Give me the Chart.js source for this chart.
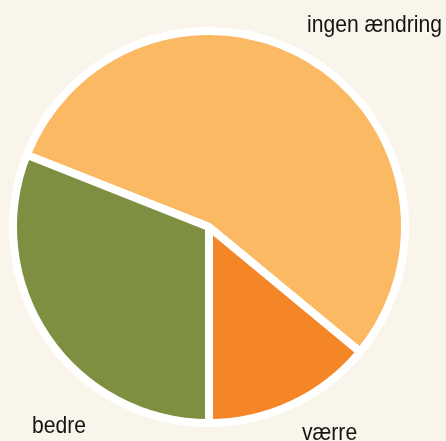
<!DOCTYPE html>
<html>
<head>
<meta charset="utf-8">
<script src="https://cdn.jsdelivr.net/npm/chart.js@4/dist/chart.umd.min.js"></script>
<style>
  html, body { margin: 0; padding: 0; background: #f9f5eb; }
  canvas { display: block; }
</style>
</head>
<body>
<canvas id="c" width="446" height="441"></canvas>
<script>
const categories = ["ingen ændring", "værre", "bedre"];
const values = [55, 14, 31];
const colors = ["#fbb963", "#f58628", "#7f8f42"];

// label anchor positions (left x, baseline y) in pixels
const labelPos = [[307, 32], [302, 440], [32, 433]];

const total = values.reduce((a, b) => a + b, 0);
// start so that the last slice ("bedre") begins straight down
const rotation = 180 - (values[0] + values[1]) / total * 360;

const labelPlugin = {
  id: 'labels',
  afterDatasetsDraw(chart) {
    const ctx = chart.ctx;
    const sx = 0.88; // condensed look
    ctx.save();
    ctx.fillStyle = '#141414';
    ctx.font = '24px "Liberation Sans", Arial, sans-serif';
    ctx.textAlign = 'left';
    ctx.textBaseline = 'alphabetic';
    categories.forEach((c, i) => {
      ctx.save();
      ctx.translate(labelPos[i][0], labelPos[i][1]);
      ctx.scale(sx, 1);
      ctx.fillText(c, 0, 0);
      ctx.restore();
    });
    ctx.restore();
  }
};

new Chart(document.getElementById('c'), {
  type: 'pie',
  data: {
    labels: categories,
    datasets: [{
      data: values,
      backgroundColor: colors,
      borderColor: '#ffffff',
      borderWidth: 8,
      hoverOffset: 0
    }]
  },
  options: {
    responsive: false,
    animation: false,
    rotation: rotation,
    layout: { padding: { left: 9, right: 37, top: 27, bottom: 14 } },
    plugins: { legend: { display: false }, tooltip: { enabled: false } }
  },
  plugins: [labelPlugin]
});
</script>
</body>
</html>
